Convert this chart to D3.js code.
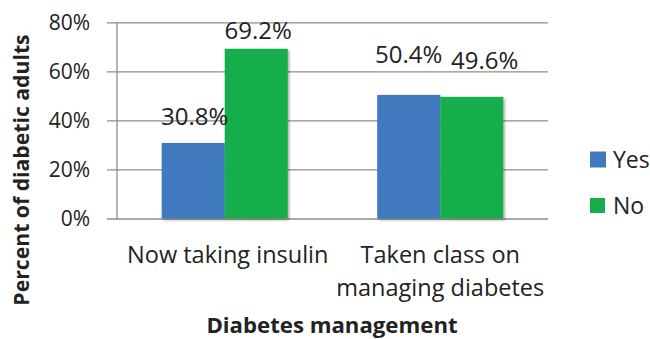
<!DOCTYPE html>
<html><head><meta charset="utf-8">
<script src="https://cdn.jsdelivr.net/npm/d3@7"></script>
<style>
html,body{margin:0;padding:0;background:#fff;}
text{font-family:"Open Sans",sans-serif;fill:#222;}
</style></head>
<body><svg id="c" width="650" height="339"></svg>
<script>
const categories = [["Now taking insulin"], ["Taken class on", "managing diabetes"]];
const seriesNames = ["Yes", "No"];
const yesValues = [30.8, 50.4];
const noValues = [69.2, 49.6];
const yTicks = [0, 20, 40, 60, 80];
const yTitle = "Percent of diabetic adults";
const xTitle = "Diabetes management";

// label nudges (styling, not data)
const labelNudge = {Yes: [[1.5, -18], [0, -32]], No: [[2, -10], [13, -28]]};
const catNudge = [3, 0];
const colors = {Yes: "#4179bd", No: "#17ad4b"};

const svg = d3.select("#c");
const catKeys = categories.map(c => c.join(" "));
const left = 117, right = 548;
const y = d3.scaleLinear().domain([0, 80]).range([218.5, 22.3]);
const x0 = d3.scaleBand().domain(catKeys).range([left, right]).paddingInner(0.415).paddingOuter(0.2075);
const x1 = d3.scaleBand().domain(seriesNames).range([0, x0.bandwidth()]);

// gridlines + y axis
const yAxis = d3.axisLeft(y).tickValues(yTicks).tickFormat(d => d + "%")
  .tickSize(-(right - 107)).tickPadding(17);
const ga = svg.append("g").attr("transform", "translate(107,0)").call(yAxis);
ga.select(".domain").remove();
ga.selectAll(".tick line").attr("stroke", "#8c8c8c").attr("stroke-width", 1.3);
ga.selectAll(".tick text").attr("font-size", 21).attr("fill", "#222")
  .attr("font-family", "'Open Sans', sans-serif");
svg.append("line").attr("x1", left).attr("x2", left).attr("y1", y(80)).attr("y2", y(0))
  .attr("stroke", "#8c8c8c").attr("stroke-width", 1.3);

// shadow filter
const defs = svg.append("defs");
const f = defs.append("filter").attr("id", "sh").attr("x", "-10%").attr("y", "-10%").attr("width", "130%").attr("height", "130%");
f.append("feDropShadow").attr("dx", 1.5).attr("dy", 1.5).attr("stdDeviation", 1.2).attr("flood-color", "#000").attr("flood-opacity", 0.35);

const data = catKeys.map((k, i) => ({k, i, vals: [{s: "Yes", v: yesValues[i]}, {s: "No", v: noValues[i]}]}));
const groups = svg.selectAll(".grp").data(data).join("g").attr("transform", d => `translate(${x0(d.k)},0)`);
groups.selectAll("rect").data(d => d.vals).join("rect")
  .attr("x", d => x1(d.s)).attr("width", x1.bandwidth())
  .attr("y", d => y(d.v)).attr("height", d => y(0) - y(d.v))
  .attr("fill", d => colors[d.s]).attr("filter", "url(#sh)");
groups.selectAll("text.lbl").data(d => d.vals.map(v => ({...v, i: d.i}))).join("text")
  .attr("class", "lbl")
  .attr("x", d => x1(d.s) + x1.bandwidth() / 2 + labelNudge[d.s][d.i][0])
  .attr("y", d => y(d.v) + labelNudge[d.s][d.i][1])
  .attr("text-anchor", "middle").attr("font-size", 24)
  .text(d => d.v.toFixed(1) + "%");

// category labels
const xAxis = d3.axisBottom(x0).tickSize(0).tickFormat("");
const gx = svg.append("g").attr("transform", `translate(0,${y(0)})`).call(xAxis);
gx.select(".domain").remove();
gx.selectAll(".tick").each(function(d, i) {
  const t = d3.select(this).append("text").attr("text-anchor", "middle").attr("font-size", 23.5).attr("fill", "#222");
  categories[i].forEach((line, j) => {
    t.append("tspan").attr("x", catNudge[i]).attr("y", 44 + j * 33).text(line);
  });
});

// titles
svg.append("text").attr("x", 332).attr("y", 333)
  .attr("text-anchor", "middle").attr("font-weight", "bold").attr("font-size", 22.2)
  .text(xTitle);
svg.append("text").attr("transform", "translate(29,170) rotate(-90)")
  .attr("text-anchor", "middle").attr("font-weight", "bold").attr("font-size", 21.2).text(yTitle);

// legend
const lg = svg.append("g").attr("transform", "translate(590,0)");
seriesNames.forEach((s, i) => {
  const yy = 159.5 + i * 46.5;
  lg.append("rect").attr("x", 0).attr("y", yy - 8).attr("width", 16 - i * 1).attr("height", 16 - i * 1).attr("fill", colors[s]);
  lg.append("text").attr("x", 23).attr("y", yy + 8).attr("font-size", 23).text(s);
});
</script></body></html>
